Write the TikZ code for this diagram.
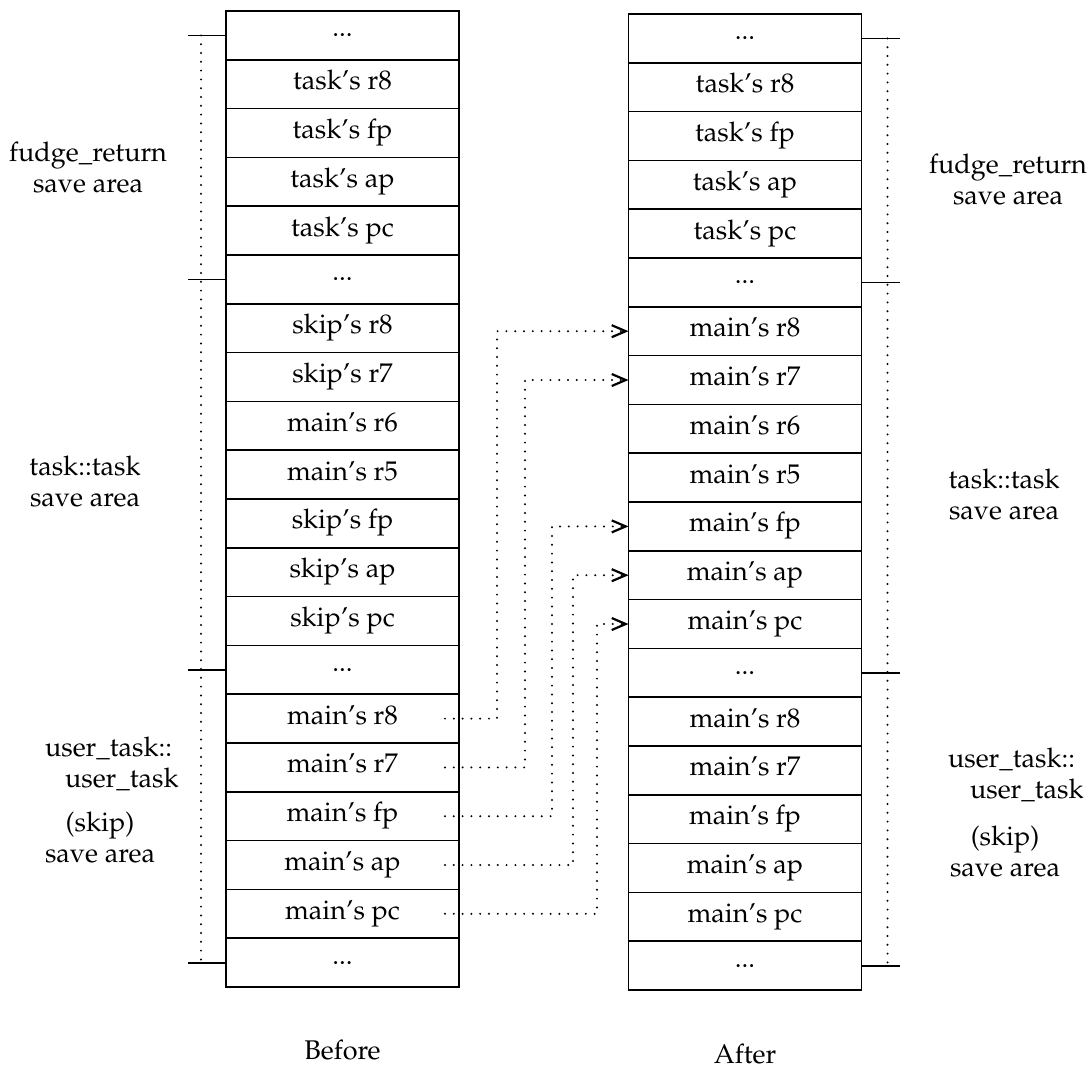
\documentclass[tikz,border=0pt]{standalone}
\usepackage[T1]{fontenc}
\usepackage{mathpazo}
\usetikzlibrary{positioning,arrows.meta}

\newcommand{\stackfont}{\fontsize{13.5}{15.5}\selectfont}

\tikzset{
  cell/.style={draw, line width=0.85pt, rectangle, minimum width=116.5pt, minimum height=24.4pt,
    inner sep=0pt, outer sep=0pt, font=\stackfont, text height=9pt, text depth=3.5pt},
  gapcell/.style={cell, text height=, text depth=},
  dotline/.style={line width=1.1pt, dash pattern=on 0pt off 4.4pt, line cap=round},
  conn/.style={dotline, -{Straight Barb[length=7pt,width=6pt]}},
  bracetick/.style={line width=0.9pt},
  lbl/.style={align=center, font=\stackfont},
}

\begin{document}
\begin{tikzpicture}[x=0.5pt, y=-0.5pt]
   \useasboundingbox (0,0) rectangle (1090,1071);

   % before
   \node[gapcell] (l1) at (342.5,35.4) {...};
   \node[cell, below=0pt of l1] (l2) {task's r8};
   \node[cell, below=0pt of l2] (l3) {task's fp};
   \node[cell, below=0pt of l3] (l4) {task's ap};
   \node[cell, below=0pt of l4] (l5) {task's pc};
   \node[gapcell, below=0pt of l5] (l6) {...};
   \node[cell, below=0pt of l6] (l7) {skip's r8};
   \node[cell, below=0pt of l7] (l8) {skip's r7};
   \node[cell, below=0pt of l8] (l9) {main's r6};
   \node[cell, below=0pt of l9] (l10) {main's r5};
   \node[cell, below=0pt of l10] (l11) {skip's fp};
   \node[cell, below=0pt of l11] (l12) {skip's ap};
   \node[cell, below=0pt of l12] (l13) {skip's pc};
   \node[gapcell, below=0pt of l13] (l14) {...};
   \node[cell, below=0pt of l14] (l15) {main's r8};
   \node[cell, below=0pt of l15] (l16) {main's r7};
   \node[cell, below=0pt of l16] (l17) {main's fp};
   \node[cell, below=0pt of l17] (l18) {main's ap};
   \node[cell, below=0pt of l18] (l19) {main's pc};
   \node[gapcell, below=0pt of l19] (l20) {...};

   % after
   \node[gapcell] (r1) at (745,38.4) {...};
   \node[cell, below=0pt of r1] (r2) {task's r8};
   \node[cell, below=0pt of r2] (r3) {task's fp};
   \node[cell, below=0pt of r3] (r4) {task's ap};
   \node[cell, below=0pt of r4] (r5) {task's pc};
   \node[gapcell, below=0pt of r5] (r6) {...};
   \node[cell, below=0pt of r6] (r7) {main's r8};
   \node[cell, below=0pt of r7] (r8) {main's r7};
   \node[cell, below=0pt of r8] (r9) {main's r6};
   \node[cell, below=0pt of r9] (r10) {main's r5};
   \node[cell, below=0pt of r10] (r11) {main's fp};
   \node[cell, below=0pt of r11] (r12) {main's ap};
   \node[cell, below=0pt of r12] (r13) {main's pc};
   \node[gapcell, below=0pt of r13] (r14) {...};
   \node[cell, below=0pt of r14] (r15) {main's r8};
   \node[cell, below=0pt of r15] (r16) {main's r7};
   \node[cell, below=0pt of r16] (r17) {main's fp};
   \node[cell, below=0pt of r17] (r18) {main's ap};
   \node[cell, below=0pt of r18] (r19) {main's pc};
   \node[gapcell, below=0pt of r19] (r20) {...};

   \draw[bracetick] (l1.west) -- ++(-38,0);
   \draw[bracetick] (l6.west) -- ++(-38,0);
   \draw[bracetick] (l14.west) -- ++(-38,0);
   \draw[bracetick] (l20.west) -- ++(-38,0);
   \draw[dotline] ([xshift=-12.5pt]l1.west) -- ([xshift=-12.5pt]l20.west);

   \draw[bracetick] (r1.east) -- ++(38,0);
   \draw[bracetick] (r6.east) -- ++(38,0);
   \draw[bracetick] (r14.east) -- ++(38,0);
   \draw[bracetick] (r20.east) -- ++(38,0);
   \draw[dotline] ([xshift=13pt]r1.east) -- ([xshift=13pt]r20.east);

   \draw[conn] ([xshift=-7pt]l15.east) -- ([xshift=19pt]l15.east) |- (r7.west);
   \draw[conn] ([xshift=-7pt]l16.east) -- ([xshift=33pt]l16.east) |- (r8.west);
   \draw[conn] ([xshift=-7pt]l17.east) -- ([xshift=46.5pt]l17.east) |- (r11.west);
   \draw[conn] ([xshift=-7pt]l18.east) -- ([xshift=57pt]l18.east) |- (r12.west);
   \draw[conn] ([xshift=-7pt]l19.east) -- ([xshift=69pt]l19.east) |- (r13.west);

   \node[lbl] (fudgeL) at (88,168) {fudge\_return\\save area};
   \node[lbl] (taskL) at (85,482) {task::task\\save area};
   \node[lbl, align=left, anchor=west] (userL) at (38,764) {user\_task::\\\hspace*{10pt}user\_task};
   \node[lbl] (skipL) at (100,838) {(skip)\\save area};

   \node[lbl] (fudgeR) at (1008,180) {fudge\_return\\save area};
   \node[lbl] (taskR) at (1004,495) {task::task\\save area};
   \node[lbl, align=left, anchor=west] (userR) at (941,775) {user\_task::\\\hspace*{11pt}user\_task};
   \node[lbl] (skipR) at (1005,852) {(skip)\\save area};

   \node[lbl] (before) at (342.5,1050) {Before};
   \node[lbl] (after) at (745,1054) {After};
\end{tikzpicture}
\end{document}
